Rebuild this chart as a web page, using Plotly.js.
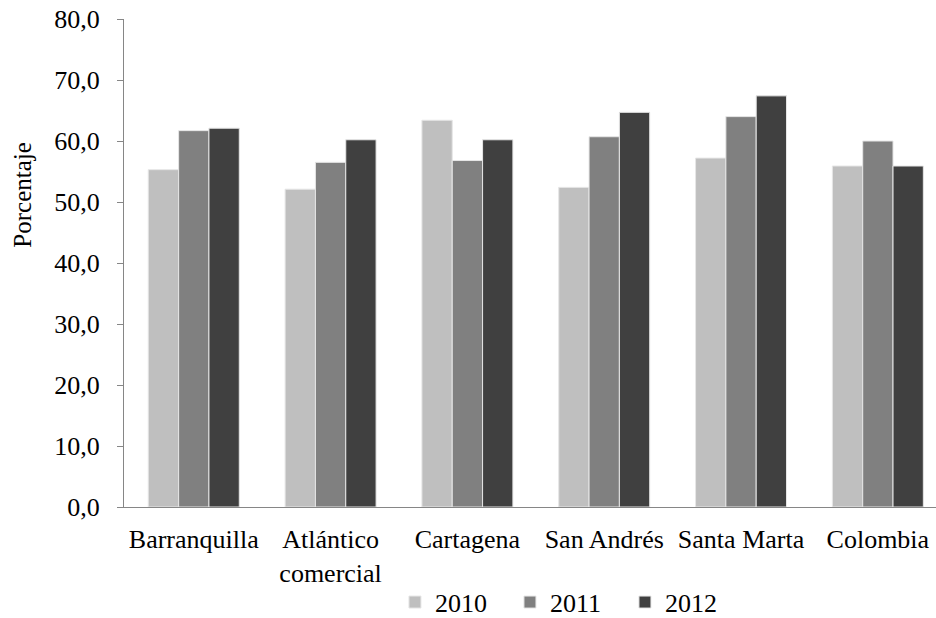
<!DOCTYPE html>
<html>
<head>
<meta charset="utf-8">
<script src="https://cdn.plot.ly/plotly-3.0.1.min.js"></script>
<style>html,body{margin:0;padding:0;background:#fff;}#chart{width:936px;height:618px;}</style>
</head>
<body>
<div id="chart"></div>
<script>
const categories = ["Barranquilla", "Atlántico<br>comercial", "Cartagena", "San Andrés", "Santa Marta", "Colombia"];
const seriesNames = ["2010", "2011", "2012"];
const values2010 = [55.3, 52.1, 63.4, 52.4, 57.2, 55.9];
const values2011 = [61.7, 56.5, 56.8, 60.7, 64.0, 60.0];
const values2012 = [62.1, 60.2, 60.2, 64.7, 67.4, 55.9];
const yTickVals = [0, 10, 20, 30, 40, 50, 60, 70, 80];
const yTitle = "Porcentaje";

const colors = ["#bfbfbf", "#808080", "#404040"];
const allValues = [values2010, values2011, values2012];
const font = "Liberation Serif, Times New Roman, serif";

const traces = allValues.map((vals, i) => ({
  type: "bar",
  name: seriesNames[i],
  x: categories,
  y: vals,
  marker: { color: colors[i], line: { color: "#e6e6e6", width: 1 } },
  hoverinfo: "x+y"
}));

const layout = {
  width: 936, height: 618,
  margin: { l: 124, r: 0, t: 19, b: 111, autoexpand: false },
  paper_bgcolor: "#fff", plot_bgcolor: "#fff",
  separators: ",.",
  font: { family: font, size: 26, color: "#000" },
  barmode: "group",
  bargap: 0.335,
  bargroupgap: 0,
  showlegend: true,
  legend: {
    orientation: "h", x: 0.3337, xanchor: "left", y: -0.195, yanchor: "middle",
    font: { family: font, size: 26, color: "#000" },
    itemwidth: 30, tracegroupgap: 0,
    entrywidth: 70, entrywidthmode: "pixels"
  },
  annotations: [{
    text: yTitle, textangle: -90,
    xref: "paper", yref: "paper", x: -0.1244, y: 0.64,
    xanchor: "center", yanchor: "middle", showarrow: false,
    font: { family: font, size: 25, color: "#000" }
  }],
  xaxis: {
    range: [-0.51, 5.425],
    showline: true, linecolor: "#868686", linewidth: 1,
    ticks: "", showgrid: false, zeroline: false,
    ticklabelstandoff: 9,
    tickfont: { family: font, size: 26 },
    automargin: false,
    fixedrange: true
  },
  yaxis: {
    range: [0, 80], tickvals: yTickVals, tickformat: ".1f",
    showline: true, linecolor: "#868686", linewidth: 1,
    ticks: "outside", ticklen: 6, tickcolor: "#868686",
    ticklabelstandoff: 12,
    showgrid: false, zeroline: false,
    tickfont: { family: font, size: 26 },
    automargin: false,
    fixedrange: true
  }
};

Plotly.newPlot("chart", traces, layout, { displayModeBar: false, staticPlot: true });
</script>
</body>
</html>
